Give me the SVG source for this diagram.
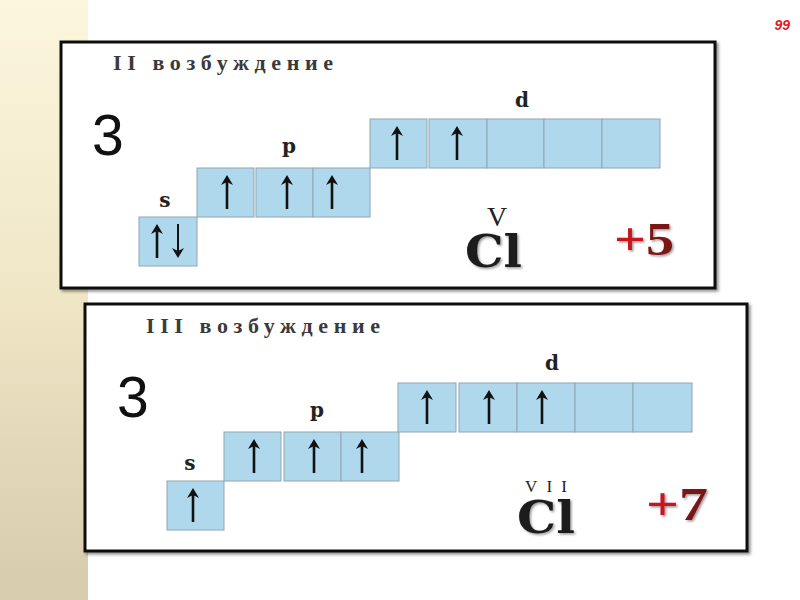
<svg xmlns="http://www.w3.org/2000/svg" xmlns:xlink="http://www.w3.org/1999/xlink" width="800" height="600" viewBox="0 0 800 600">
<style>
.panel{fill:#fff;stroke:#111;stroke-width:3}
.orb{fill:#b0d8ec;stroke:#8fa6b1;stroke-width:1}
.title{font-family:"Liberation Serif",serif;font-size:22px;fill:#3a3a3a;font-weight:bold}
.shell{font-family:"Liberation Sans",sans-serif;font-size:57px;fill:#111}
.sub{font-family:"DejaVu Serif",serif;font-weight:bold;font-size:20px;fill:#222;text-anchor:middle}
.val{font-family:"Liberation Serif",serif;fill:#222}
.el{font-family:"DejaVu Serif",serif;font-weight:bold;font-size:44px;fill:#1a1a1a}
.ox{font-family:"Liberation Serif",serif;font-weight:bold;font-size:47px}
.arr{stroke:#111;stroke-width:2.6;fill:none}
.head{fill:#111}
</style>
<defs>
<linearGradient id="strip" x1="0" y1="0" x2="0" y2="1">
<stop offset="0" stop-color="#fcf6de"/>
<stop offset="0.5" stop-color="#efe6c6"/>
<stop offset="1" stop-color="#d6cbac"/>
</linearGradient>
<filter id="sh" x="-5%" y="-5%" width="115%" height="115%">
<feDropShadow dx="2" dy="2" stdDeviation="1.5" flood-color="#000" flood-opacity="0.45"/>
</filter>
<filter id="tsh" x="-10%" y="-10%" width="130%" height="130%">
<feDropShadow dx="1.5" dy="1.5" stdDeviation="1.2" flood-color="#000" flood-opacity="0.4"/>
</filter>
<g id="up">
<line class="arr" x1="0" y1="17" x2="0" y2="-11"/>
<path class="head" d="M-6,-7 L0,-17 L6,-7 L0,-10 Z"/>
</g>
<g id="down">
<line class="arr" x1="0" y1="-17" x2="0" y2="11" style="stroke-width:2"/>
<path class="head" d="M-6,7 L0,17 L6,7 L0,10 Z"/>
</g>
</defs>

<rect width="800" height="600" fill="#fff"/>
<rect id="strip-bg" x="0" y="0" width="88" height="600" fill="url(#strip)"/>
<text x="790" y="30" text-anchor="end" font-family="Liberation Sans,sans-serif" font-size="14" font-weight="bold" font-style="italic" fill="#e8121a">99</text>

<g id="panel1">
<rect class="panel" x="61" y="42" width="654" height="246" filter="url(#sh)"/>
<text class="title" x="113" y="70" textLength="220" lengthAdjust="spacing">II возбуждение</text>
<text class="shell" x="92" y="155">3</text>
<text class="sub" x="165" y="207">s</text>
<text class="sub" x="289" y="153">p</text>
<text class="sub" x="522" y="107">d</text>
<g id="p1-s">
<rect class="orb" x="139" y="217" width="58" height="49"/>
<use xlink:href="#up" x="157" y="241"/>
<use xlink:href="#down" x="178" y="241"/>
</g>
<g id="p1-p">
<rect class="orb" x="197" y="168" width="57" height="49"/>
<rect class="orb" x="256" y="168" width="57" height="49"/>
<rect class="orb" x="313" y="168" width="57" height="49"/>
<use xlink:href="#up" x="227" y="192"/>
<use xlink:href="#up" x="287" y="192"/>
<use xlink:href="#up" x="332" y="192"/>
</g>
<g id="p1-d">
<rect class="orb" x="370" y="119" width="57" height="49"/>
<rect class="orb" x="429" y="119" width="58" height="49"/>
<rect class="orb" x="487" y="119" width="57" height="49"/>
<rect class="orb" x="544" y="119" width="58" height="49"/>
<rect class="orb" x="602" y="119" width="58" height="49"/>
<use xlink:href="#up" x="397" y="143"/>
<use xlink:href="#up" x="457" y="143"/>
</g>
<text class="val" x="497" y="226" font-size="28" text-anchor="middle">V</text>
<text class="el" x="465" y="267" textLength="57" lengthAdjust="spacingAndGlyphs" filter="url(#tsh)">Cl</text>
<text class="ox" x="614" y="255" textLength="60" lengthAdjust="spacingAndGlyphs" filter="url(#tsh)"><tspan fill="#c8161d">+</tspan><tspan fill="#7a1414">5</tspan></text>
</g>

<g id="panel2">
<rect class="panel" x="85" y="304" width="662" height="247" filter="url(#sh)"/>
<text class="title" x="146" y="333" textLength="234" lengthAdjust="spacing">III возбуждение</text>
<text class="shell" x="117" y="417">3</text>
<text class="sub" x="190" y="470">s</text>
<text class="sub" x="317" y="417">p</text>
<text class="sub" x="552" y="370">d</text>
<g id="p2-s">
<rect class="orb" x="167" y="481" width="57" height="49"/>
<use xlink:href="#up" x="193" y="505"/>
</g>
<g id="p2-p">
<rect class="orb" x="224" y="432" width="57" height="49"/>
<rect class="orb" x="284" y="432" width="57" height="49"/>
<rect class="orb" x="341" y="432" width="58" height="49"/>
<use xlink:href="#up" x="254" y="456"/>
<use xlink:href="#up" x="314" y="456"/>
<use xlink:href="#up" x="362" y="456"/>
</g>
<g id="p2-d">
<rect class="orb" x="398" y="383" width="58" height="49"/>
<rect class="orb" x="459" y="383" width="58" height="49"/>
<rect class="orb" x="517" y="383" width="58" height="49"/>
<rect class="orb" x="575" y="383" width="58" height="49"/>
<rect class="orb" x="633" y="383" width="59" height="49"/>
<use xlink:href="#up" x="427" y="407"/>
<use xlink:href="#up" x="489" y="407"/>
<use xlink:href="#up" x="542" y="407"/>
</g>
<text class="val" x="525" y="492" font-size="17" textLength="42" lengthAdjust="spacing">VII</text>
<text class="el" x="517" y="533" textLength="58" lengthAdjust="spacingAndGlyphs" filter="url(#tsh)">Cl</text>
<text class="ox" x="646" y="520" textLength="62" lengthAdjust="spacingAndGlyphs" filter="url(#tsh)"><tspan fill="#c8161d">+</tspan><tspan fill="#7a1414">7</tspan></text>
</g>
</svg>
